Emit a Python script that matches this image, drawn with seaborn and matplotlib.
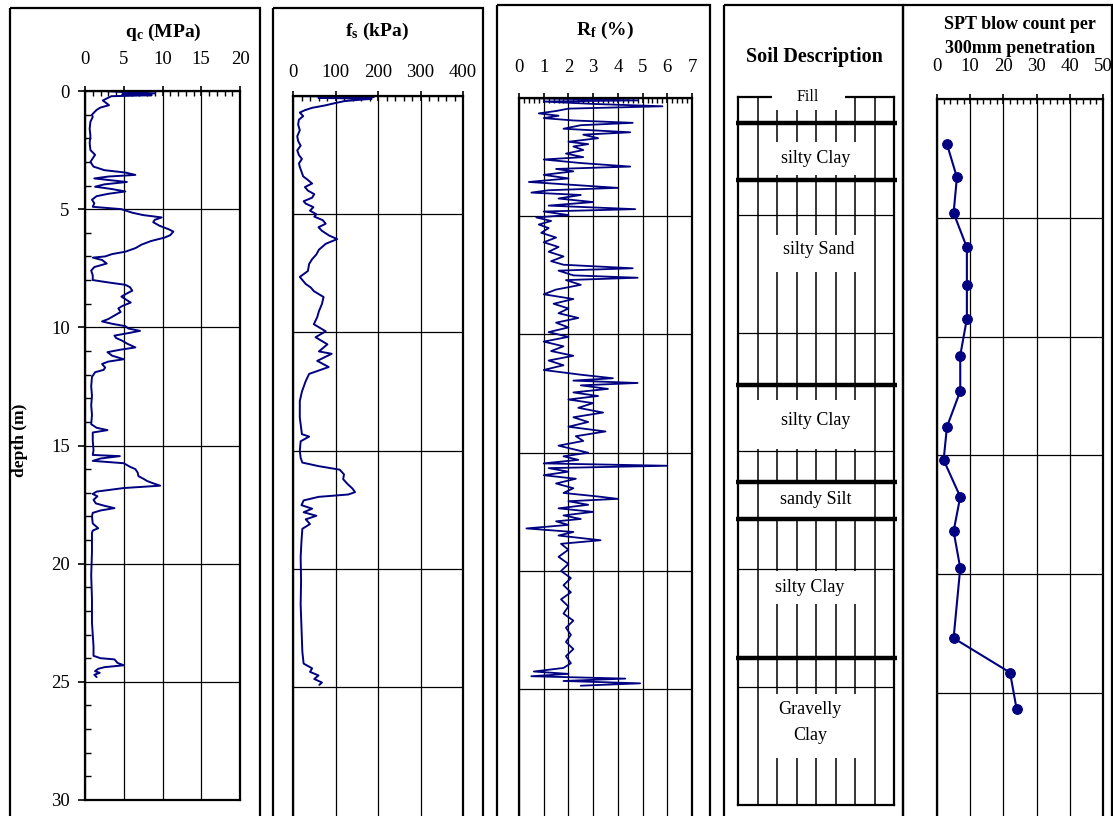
import pandas as pd
import seaborn as sns
import matplotlib.pyplot as plt
from matplotlib import ticker
from matplotlib.patches import Rectangle

# ---- cone resistance q_c (MPa) ----
qc_depth = [0.0, 0.05, 0.1, 0.14, 0.18, 0.22, 0.3, 0.4, 0.5, 0.6, 0.7, 0.8, 0.9, 1.0, 1.1, 1.3,
            1.6, 1.9, 2.2, 2.5, 2.7, 2.85, 3.0, 3.2, 3.35, 3.45, 3.55, 3.62, 3.7, 3.8, 3.85, 3.95,
            4.05, 4.15, 4.25, 4.35, 4.45, 4.6, 4.75, 4.9, 5.0, 5.15, 5.25, 5.35, 5.45, 5.55, 5.7,
            5.85, 5.95, 6.1, 6.2, 6.35, 6.5, 6.65, 6.8, 6.9, 7.0, 7.05, 7.15, 7.3, 7.45, 7.6, 7.8,
            8.0, 8.1, 8.2, 8.3, 8.45, 8.55, 8.7, 8.85, 8.95, 9.1, 9.2, 9.35, 9.5, 9.65, 9.75, 9.85,
            9.95, 10.05, 10.15, 10.25, 10.35, 10.45, 10.55, 10.7, 10.85, 10.95, 11.05, 11.2, 11.35,
            11.45, 11.55, 11.7, 11.8, 11.9, 12.0, 12.1, 12.5, 12.9, 13.3, 13.7, 14.1, 14.25, 14.35,
            14.45, 14.8, 15.2, 15.4, 15.45, 15.55, 15.65, 15.75, 15.9, 16.0, 16.15, 16.3, 16.4,
            16.5, 16.6, 16.7, 16.8, 16.85, 16.95, 17.05, 17.15, 17.3, 17.45, 17.55, 17.65, 17.75,
            17.85, 18.0, 18.3, 18.5, 18.6, 18.7, 19.5, 20.5, 21.5, 22.5, 23.0, 23.5, 23.9, 24.0,
            24.05, 24.2, 24.3, 24.38, 24.45, 24.55, 24.62, 24.7, 24.8]
qc_value = [2.6, 5.2, 9.0, 4.8, 8.6, 3.4, 2.9, 2.3, 2.7, 3.1, 2.0, 1.5, 1.2, 0.9, 1.0, 0.7,
            0.6, 0.7, 0.6, 0.7, 1.3, 1.0, 0.7, 1.1, 2.5, 5.2, 6.5, 3.0, 1.2, 4.0, 5.4, 2.5,
            1.3, 3.5, 5.2, 3.0, 1.5, 0.9, 1.2, 1.0, 4.7, 6.1, 7.5, 9.9, 9.0, 8.8, 9.6,
            10.8, 11.4, 11.0, 10.3, 8.5, 7.3, 6.5, 5.2, 3.5, 2.6, 1.0, 2.2, 2.8, 1.2, 0.8, 1.0,
            1.0, 3.0, 5.2, 5.8, 6.1, 5.5, 4.7, 5.4, 5.9, 4.8, 4.3, 4.6, 3.8, 3.0, 2.2, 3.5,
            5.2, 5.6, 7.1, 5.5, 3.8, 4.0, 4.7, 5.5, 6.5, 4.5, 2.9, 3.5, 5.0,
            3.0, 2.2, 2.6, 2.4, 1.3, 1.1, 0.9, 0.8, 0.9, 0.8, 0.9, 0.8, 1.5, 2.9,
            1.0, 1.0, 1.1, 1.0, 4.5, 2.0, 1.0, 5.0, 5.8, 6.5, 6.8, 6.9, 7.5,
            8.0, 8.8, 9.7, 5.0, 3.8, 1.5, 1.0, 1.6, 1.1, 1.4, 2.5, 3.8, 2.0,
            1.0, 0.9, 1.0, 1.7, 1.0, 0.9, 0.9, 0.8, 0.9, 0.9, 1.0, 1.1, 1.1, 2.0,
            3.8, 4.2, 5.0, 2.5, 1.7, 1.3, 1.9, 1.2, 1.5]

# ---- sleeve friction f_s (kPa) ----
fs_depth = [0.0, 0.04, 0.08, 0.12, 0.17, 0.22, 0.3, 0.4, 0.5, 0.6, 0.7, 0.85, 1.0, 1.2, 1.45,
            1.7, 1.9, 2.1, 2.3, 2.5, 2.66, 2.85, 3.0, 3.2, 3.4, 3.55, 3.7, 3.85, 4.0, 4.15, 4.3,
            4.45, 4.55, 4.7, 4.85, 5.0, 5.1, 5.25, 5.4, 5.55, 5.7, 5.9, 6.05, 6.25, 6.5, 6.7,
            6.9, 7.1, 7.4, 7.65, 7.95, 8.1, 8.25, 8.5, 8.8, 9.1, 9.35, 9.65, 9.95, 10.2, 10.5,
            10.8, 10.9, 11.2, 11.46, 11.75, 12.05, 12.5, 12.9, 13.6, 14.3, 14.4, 14.6, 15.0,
            15.3, 15.5, 15.65, 15.8, 16.0, 16.2, 16.4, 16.6, 16.75, 16.85, 16.95, 17.1, 17.3,
            17.45, 17.6, 17.75, 17.9, 18.1, 18.3, 18.8, 19.5, 20.5, 21.5, 22.5, 23.5, 24.0,
            24.2, 24.35, 24.5, 24.65, 24.8, 24.9]
fs_value = [5, 190, 60, 185, 150, 120, 99, 75, 45, 28, 16, 24, 14, 12, 16,
            10, 12, 18, 10, 14, 21, 14, 16, 20, 24, 35, 45, 28, 35, 50, 45,
            25, 30, 48, 40, 55, 50, 70, 77, 60, 68, 85, 104, 77, 61, 55,
            45, 38, 35, 16, 30, 42, 49, 72, 68, 61, 57, 49, 77, 53, 81,
            61, 91, 57, 84, 38, 30, 21, 16, 16, 21, 38, 18, 16,
            18, 22, 60, 110, 120, 118, 128, 140, 146, 130, 60, 25, 20,
            45, 25, 55, 30, 40, 22, 20, 18, 19, 18, 20, 22, 25,
            45, 40, 60, 50, 68, 62]

# ---- friction ratio R_f (%) ----
rf_depth = [0.0, 0.1, 0.15, 0.25, 0.35, 0.45, 0.55, 0.65, 0.75, 0.85, 0.95, 1.05, 1.15, 1.3,
            1.45, 1.55, 1.7, 1.85, 1.95, 2.05, 2.2, 2.35, 2.5, 2.6, 2.75, 2.9, 3.0, 3.1, 3.25,
            3.4, 3.55, 3.7, 3.8, 3.9, 4.0, 4.1, 4.25, 4.4, 4.55, 4.7, 4.8, 4.95, 5.05, 5.2,
            5.35, 5.5, 5.7, 5.9, 6.1, 6.3, 6.5, 6.7, 6.9, 7.05, 7.2, 7.3, 7.5, 7.6, 7.7, 7.9,
            8.1, 8.3, 8.5, 8.7, 8.9, 9.1, 9.3, 9.5, 9.7, 9.9, 10.1, 10.3, 10.5, 10.7, 10.9,
            11.1, 11.3, 11.5, 11.7, 11.85, 11.95, 12.05, 12.15, 12.3, 12.45, 12.6, 12.75, 12.9,
            13.1, 13.3, 13.5, 13.7, 13.9, 14.1, 14.3, 14.5, 14.7, 14.85, 15.0, 15.15, 15.3,
            15.45, 15.55, 15.65, 15.8, 15.95, 16.1, 16.3, 16.5, 16.7, 16.85, 16.95, 17.05,
            17.2, 17.35, 17.5, 17.65, 17.8, 17.9, 18.05, 18.2, 18.35, 18.5, 18.7, 18.85,
            19.1, 19.4, 19.7, 20.0, 20.3, 20.6, 20.9, 21.2, 21.5, 21.8, 22.1, 22.4, 22.7,
            23.0, 23.3, 23.6, 23.9, 24.1, 24.25, 24.35, 24.45, 24.55, 24.65, 24.75, 24.85]
rf_value = [0.1, 4.8, 1.0, 3.0, 5.8, 2.0, 1.5, 0.8, 1.6, 1.0, 2.2, 4.6, 2.5, 1.8,
            4.5, 2.6, 3.2, 2.0, 2.8, 2.2, 2.6, 1.9, 2.6, 1.0, 2.5, 4.5, 1.5, 2.2, 1.0,
            2.0, 0.4, 2.6, 4.0, 1.2, 0.5, 2.5, 1.6, 3.0, 1.2, 4.7, 1.0, 2.0, 0.7, 1.3,
            0.8, 1.2, 0.9, 1.5, 1.0, 1.6, 1.2, 1.8, 1.3, 1.8, 4.6, 1.6, 2.2, 4.8, 1.9, 2.5,
            1.5, 1.0, 2.2, 1.4, 2.0, 1.6, 2.4, 1.5, 2.0, 1.2, 2.0, 1.0, 1.8, 1.3, 2.2,
            1.2, 1.8, 1.0, 2.5, 3.8, 2.2, 4.8, 2.5, 3.6, 2.2, 3.2, 2.0, 3.0,
            2.4, 3.4, 2.2, 2.8, 2.0, 3.5, 2.3, 2.6, 1.6, 2.2, 2.8, 1.8, 2.4,
            1.0, 6.0, 1.2, 2.0, 1.0, 2.3, 1.5, 2.2, 1.8, 3.2, 4.0, 2.0,
            2.8, 1.6, 3.0, 1.8, 2.5, 1.5, 2.0, 0.3, 2.2, 1.6, 3.3, 1.7,
            2.0, 1.6, 2.0, 1.7, 2.1, 1.8, 2.1, 1.7, 2.0, 1.8, 2.2, 1.9, 2.1,
            1.9, 2.2, 1.9, 2.1, 1.8, 0.6, 2.0, 0.5, 4.3, 1.8, 4.9, 2.5]

# ---- soil description ----
soil_bounds = [1.1, 3.5, 12.2, 16.3, 17.9, 23.75]
soil_names = ["Fill", "silty Clay", "silty Sand", "silty Clay", "sandy Silt", "silty Clay",
              "Gravelly\nClay"]
soil_label_depth = [0.0, 2.6, 6.45, 13.7, 17.05, 20.8, 26.5]
soil_label_col = [3.6, 4.0, 4.15, 4.0, 4.0, 3.7, 3.7]

# ---- SPT blow counts ----
spt_depth = [1.9, 3.3, 4.8, 6.25, 7.85, 9.25, 10.8, 12.3, 13.8, 15.2, 16.75, 18.2, 19.75,
             22.7, 24.15, 25.7]
spt_n = [3, 6, 5, 9, 9, 9, 7, 7, 3, 2, 7, 5, 7, 5, 22, 24]

sns.set_theme(style="white")
plt.rcParams['font.family'] = ['Liberation Serif', 'DejaVu Serif']
plt.rcParams['mathtext.fontset'] = 'custom'
plt.rcParams['mathtext.rm'] = 'Liberation Serif'
plt.rcParams['mathtext.bf'] = 'Liberation Serif:bold'
plt.rcParams['mathtext.it'] = 'Liberation Serif:italic'
plt.rcParams['text.color'] = 'black'
plt.rcParams['axes.labelcolor'] = 'black'

W, H = 1113, 816
BLUE = '#000080'

fig = plt.figure(figsize=(W / 100, H / 100), dpi=100)

# background layer in pixel units for the frames and headings
bg = fig.add_axes([0, 0, 1, 1])
bg.set_xlim(0, W)
bg.set_ylim(H, 0)
bg.axis('off')
for x0, x1, y0 in [(10, 260, 8), (273, 483, 8), (497, 710, 5), (724, 903, 5), (903, 1112, 5)]:
    bg.add_patch(Rectangle((x0, y0), x1 - x0, H + 20 - y0, fill=False, ec='black', lw=1.6,
                           clip_on=False))


def place(x0, x1, y0, y1):
    return fig.add_axes([x0 / W, 1 - y1 / H, (x1 - x0) / W, (y1 - y0) / H])


def style_panel(ax, xmax, xstep, pad):
    ax.set_xlim(0, xmax)
    ax.set_ylim(30, 0)
    ax.xaxis.set_ticks_position('top')
    ax.xaxis.set_major_locator(ticker.MultipleLocator(xstep))
    ax.xaxis.set_minor_locator(ticker.AutoMinorLocator(5))
    ax.yaxis.set_major_locator(ticker.MultipleLocator(5))
    ax.tick_params(axis='x', which='major', top=True, bottom=False, direction='inout',
                   length=7, width=1.2, pad=pad, labelsize=13.5, colors='black')
    ax.tick_params(axis='x', which='minor', top=True, bottom=False, direction='in',
                   length=3.5, width=1.0, colors='black')
    ax.grid(True, which='major', color='black', lw=0.9)
    for s in ax.spines.values():
        s.set_color('black')
        s.set_linewidth(1.6)
    ax.set_xlabel('')
    ax.set_ylabel('')


def open_bottom(ax):
    # the lower edge of these columns runs off the page
    ax.set_ylim(30.5, 0)
    ax.yaxis.set_major_locator(ticker.FixedLocator([0, 5, 10, 15, 20, 25]))
    ax.tick_params(axis='y', left=False, labelleft=False)
    ax.spines['bottom'].set_visible(False)


# panel 1: q_c
ax1 = place(85, 240, 91, 800)
qc_df = pd.DataFrame({"depth": qc_depth, "qc": qc_value})
sns.lineplot(data=qc_df, x="qc", y="depth", sort=False, estimator=None, color=BLUE, lw=1.4, ax=ax1)
style_panel(ax1, 20, 5, 13)
ax1.yaxis.set_minor_locator(ticker.MultipleLocator(1))
ax1.tick_params(axis='y', which='major', left=True, direction='out', length=5, width=1.2,
                pad=6, labelsize=13.5, colors='black')
ax1.tick_params(axis='y', which='minor', left=True, direction='in', length=4.5, width=1.0,
                colors='black')

# panel 2: f_s
ax2 = place(293, 463, 96, 96 + 30.5 * 23.65)
fs_df = pd.DataFrame({"depth": fs_depth, "fs": fs_value})
sns.lineplot(data=fs_df, x="fs", y="depth", sort=False, estimator=None, color=BLUE, lw=1.4, ax=ax2)
style_panel(ax2, 400, 100, 7)
open_bottom(ax2)

# panel 3: R_f
ax3 = place(519, 692, 98, 98 + 30.5 * 23.65)
rf_df = pd.DataFrame({"depth": rf_depth, "rf": rf_value})
sns.lineplot(data=rf_df, x="rf", y="depth", sort=False, estimator=None, color=BLUE, lw=1.3, ax=ax3)
style_panel(ax3, 7, 1, 12)
open_bottom(ax3)

# panel 4: soil description
ax4 = place(738, 894, 97, 805)
ax4.set_xlim(0, 8)
ax4.set_ylim(30, 0)
ax4.set_xticks([])
ax4.set_yticks([])
for s in ax4.spines.values():
    s.set_color('black')
    s.set_linewidth(1.6)
ax4.vlines(range(1, 8), 0, 30, color='black', lw=1.1, zorder=1)
ax4.hlines([5, 10, 15, 20, 25], 0, 8, color='black', lw=0.9, zorder=1)
boxes = [(1.75, 5.5, -0.4, 0.55), (1.1, 6.9, 1.9, 3.3), (1.1, 6.9, 5.85, 7.4),
         (0.4, 6.9, 12.85, 14.9), (1.1, 6.9, 16.4, 17.8), (1.2, 6.8, 20.1, 21.5),
         (1.2, 6.8, 25.3, 28.0)]
for (bx0, bx1, bd0, bd1), name, d, c in zip(boxes, soil_names, soil_label_depth, soil_label_col):
    ax4.add_patch(Rectangle((bx0, bd0), bx1 - bx0, bd1 - bd0, fc='white', ec='none', zorder=3,
                            clip_on=False))
    ax4.text(c, d, name, ha='center', va='center', fontsize=11.5 if name == "Fill" else 13,
             linespacing=1.75, color='black', zorder=4)
ax4.hlines(soil_bounds, -0.1, 8.15, color='black', lw=3.2, zorder=5, clip_on=False)

# panel 5: SPT
ax5 = place(937, 1103, 99, 99 + 30.5 * 23.75)
spt_df = pd.DataFrame({"depth": spt_depth, "N": spt_n})
sns.lineplot(data=spt_df, x="N", y="depth", sort=False, estimator=None, color=BLUE, lw=1.5,
             marker='o', markersize=7, markeredgecolor=BLUE, ax=ax5)
style_panel(ax5, 50, 10, 14)
open_bottom(ax5)

# headings
bg.text(163, 37, r"$\mathbf{q}_{\mathbf{c}}$ (MPa)", ha='center', va='baseline', fontsize=14,
        fontweight='bold')
bg.text(377, 36, r"$\mathbf{f}_{\mathbf{s}}$ (kPa)", ha='center', va='baseline', fontsize=14,
        fontweight='bold')
bg.text(605, 35, r"$\mathbf{R}_{\mathbf{f}}$ (%)", ha='center', va='baseline', fontsize=14,
        fontweight='bold')
bg.text(814, 62, "Soil Description", ha='center', va='baseline', fontsize=14.5, fontweight='bold')
bg.text(1020, 29, "SPT blow count per", ha='center', va='baseline', fontsize=13, fontweight='bold')
bg.text(1020, 53, "300mm penetration", ha='center', va='baseline', fontsize=13, fontweight='bold')
bg.text(20, 440, "depth (m)", rotation=90, ha='center', va='center', fontsize=12.5,
        fontweight='bold')

fig.savefig("out.png", dpi=100)
